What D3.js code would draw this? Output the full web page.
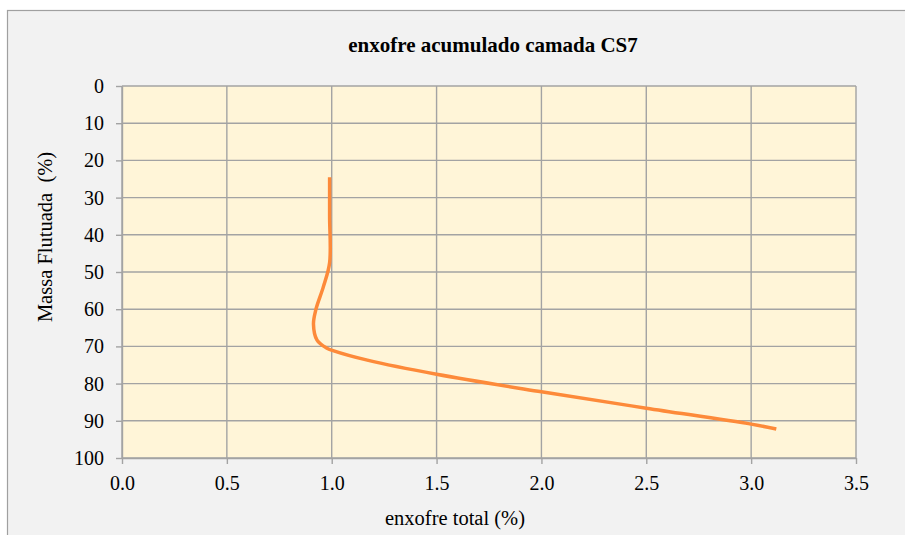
<!DOCTYPE html>
<html>
<head>
<meta charset="utf-8">
<script src="https://cdn.jsdelivr.net/npm/d3@7"></script>
<style>
  html, body { margin: 0; padding: 0; background: #ffffff; }
</style>
</head>
<body>
<svg id="chart" width="905" height="535"></svg>
<script>
// Cumulative sulfur (x, %) against floated mass (y, %) for layer CS7
const sulfurTotal = [0.99, 0.99, 0.99, 0.96, 0.925, 0.913, 0.93, 0.975, 1.01, 1.17, 1.5, 2.0, 2.5, 3.0, 3.12];
const floatedMass = [24.5, 35, 47.5, 54, 60, 64, 68.3, 70.4, 71.2, 73.7, 77.5, 82.2, 86.6, 90.9, 92.2];
const xTicks = [0, 0.5, 1.0, 1.5, 2.0, 2.5, 3.0, 3.5];
const yTicks = [0, 10, 20, 30, 40, 50, 60, 70, 80, 90, 100];

const titleText = "enxofre acumulado camada CS7";
const xLabel = "enxofre total (%)";
const yLabel = "Massa Flutuada\u00a0 (%)";

const serif = "'Liberation Serif', 'Times New Roman', Tinos, 'DejaVu Serif', serif";

const svg = d3.select("#chart");
const W = 905, H = 535;
const plot = { left: 122, right: 856, top: 86, bottom: 458 };

// chart area background and frame
svg.append("rect").attr("x", 7.5).attr("y", 10.5).attr("width", W).attr("height", H)
  .attr("fill", "#f2f2f2").attr("stroke", "#a0a0a0").attr("stroke-width", 1.2);

const x = d3.scaleLinear().domain([0, 3.5]).range([plot.left, plot.right]);
const y = d3.scaleLinear().domain([0, 100]).range([plot.top, plot.bottom]);

svg.append("rect")
  .attr("x", plot.left).attr("y", plot.top)
  .attr("width", plot.right - plot.left).attr("height", plot.bottom - plot.top)
  .attr("fill", "#fff5d8");

const gridColor = "#a3a3a3";

// vertical gridlines
svg.append("g").selectAll("line").data(xTicks).join("line")
  .attr("x1", d => x(d)).attr("x2", d => x(d))
  .attr("y1", plot.top).attr("y2", plot.bottom)
  .attr("stroke", gridColor).attr("stroke-width", 1.4);

// horizontal gridlines
svg.append("g").selectAll("line").data(yTicks).join("line")
  .attr("x1", plot.left).attr("x2", plot.right)
  .attr("y1", d => y(d)).attr("y2", d => y(d))
  .attr("stroke", gridColor).attr("stroke-width", 1.4);

// axes
const xAxis = d3.axisBottom(x).tickValues(xTicks).tickFormat(d3.format(".1f")).tickSizeInner(6).tickSizeOuter(0).tickPadding(11);
const yAxis = d3.axisLeft(y).tickValues(yTicks).tickFormat(d3.format("d")).tickSizeInner(6).tickSizeOuter(0).tickPadding(12);

const gx = svg.append("g").attr("transform", `translate(0,${plot.bottom})`).call(xAxis);
const gy = svg.append("g").attr("transform", `translate(${plot.left},0)`).call(yAxis);
[gx, gy].forEach(g => {
  g.attr("font-family", serif).attr("font-size", 20);
  g.select(".domain").attr("stroke", gridColor).attr("stroke-width", 1.4);
  g.selectAll(".tick line").attr("stroke", gridColor).attr("stroke-width", 1.4);
  g.selectAll("text").attr("fill", "#000")
    .attr("font-family", serif).style("font-family", serif).style("font-size", "20px");
});
gx.selectAll("text").attr("dy", "0.75em");

// data line
const line = d3.line()
  .x((d, i) => x(sulfurTotal[i]))
  .y((d, i) => y(floatedMass[i]))
  .curve(d3.curveCatmullRom.alpha(0.5));

svg.append("path")
  .datum(floatedMass)
  .attr("d", line)
  .attr("fill", "none")
  .attr("stroke", "#fd8a3a")
  .attr("stroke-width", 3.5)
  .attr("stroke-linecap", "butt")
  .attr("stroke-linejoin", "round");

// title and axis labels
svg.append("text").attr("x", 493).attr("y", 52).attr("text-anchor", "middle")
  .attr("font-family", serif).style("font-family", serif)
  .style("font-size", "21px").attr("font-weight", "bold").text(titleText);

svg.append("text").attr("x", 455).attr("y", 525).attr("text-anchor", "middle")
  .attr("font-family", serif).style("font-family", serif)
  .style("font-size", "20.5px").text(xLabel);

svg.append("text").attr("transform", "translate(52,237) rotate(-90)")
  .attr("text-anchor", "middle")
  .attr("font-family", serif).style("font-family", serif)
  .style("font-size", "20.5px").text(yLabel);
</script>
</body>
</html>
